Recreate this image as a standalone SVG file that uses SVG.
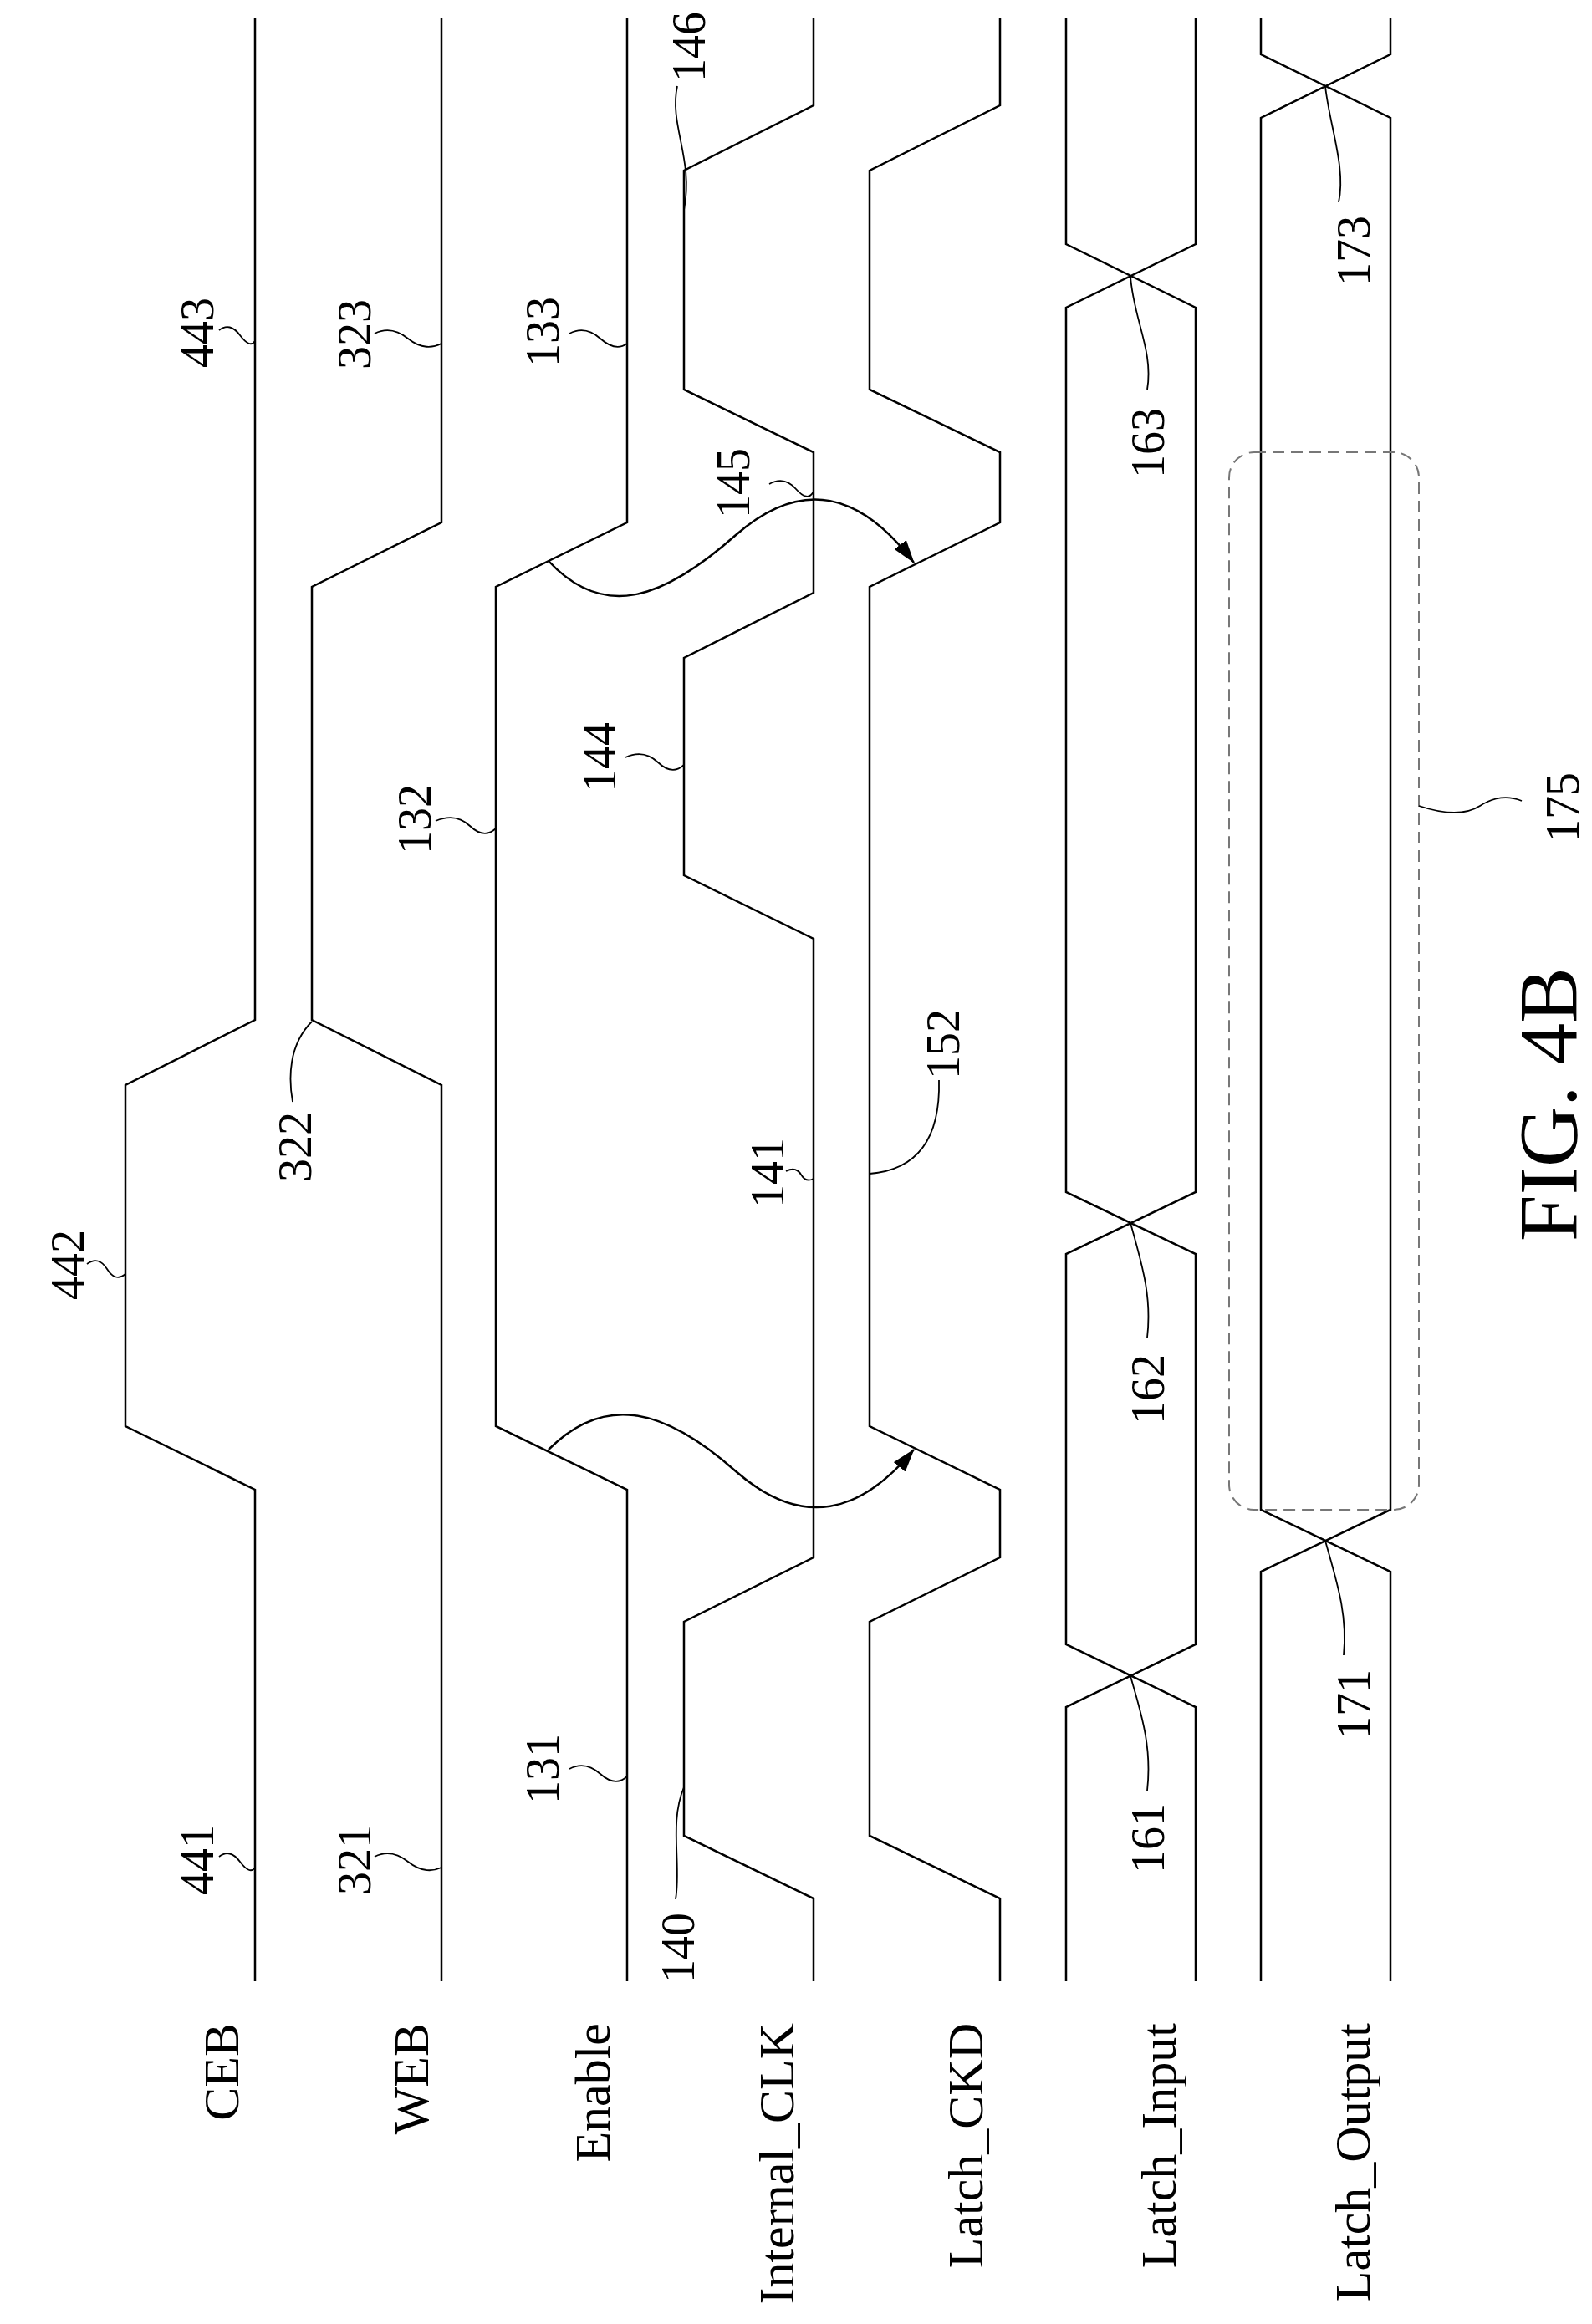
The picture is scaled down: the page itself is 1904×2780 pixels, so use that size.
<svg xmlns="http://www.w3.org/2000/svg" width="1904" height="2780" viewBox="0 0 1904 2780">
<defs>
<style>
.w{fill:none;stroke:#000;stroke-width:2.5}
.l{fill:none;stroke:#000;stroke-width:1.8}
.d{fill:none;stroke:#777;stroke-width:2;stroke-dasharray:14 8}
text{font-family:"Liberation Serif",serif;fill:#000}
.n{font-size:56px;text-anchor:middle}
.s{font-size:60px;text-anchor:end}
</style>
<marker id="ah" viewBox="0 0 28 18" refX="27" refY="9" markerWidth="28" markerHeight="18" markerUnits="userSpaceOnUse" orient="auto"><path d="M0,0 L28,9 L0,18 Z" fill="#000"/></marker>
</defs>
<rect width="1904" height="2780" fill="#fff"/>
<g id="CEB"><path class="w" d="M305,22 V1220 L150,1298 V1706 L305,1782 V2370"/><text class="s" transform="rotate(-90 285 2420)" x="285" y="2420">CEB</text></g>
<g id="WEB"><path class="w" d="M528,22 V625 L373,702 V1220 L528,1298 V2370"/><text class="s" transform="rotate(-90 512 2420)" x="512" y="2420">WEB</text></g>
<g id="Enable"><path class="w" d="M750,22 V625 L593,702 V1706 L750,1782 V2370"/><text class="s" transform="rotate(-90 729 2420)" x="729" y="2420">Enable</text></g>
<g id="Internal_CLK"><path class="w" d="M973,22 V126 L818,204 V466 L973,541 V709 L818,787 V1047 L973,1123 V1863 L818,1940 V2196 L973,2271 V2370"/><text class="s" transform="rotate(-90 949 2420)" x="949" y="2420">Internal_CLK</text></g>
<g id="Latch_CKD"><path class="w" d="M1196,22 V126 L1040,204 V466 L1196,541 V625 L1040,702 V1706 L1196,1782 V1863 L1040,1940 V2196 L1196,2271 V2370"/><text class="s" transform="rotate(-90 1175 2420)" x="1175" y="2420">Latch_CKD</text></g>
<g id="Latch_Input"><path class="w" d="M1275,22 V292 L1430,368 V1426 L1275,1500 V1967 L1430,2042 V2370 M1430,22 V292 L1275,368 V1426 L1430,1500 V1967 L1275,2042 V2370"/><text class="s" transform="rotate(-90 1406 2420)" x="1406" y="2420">Latch_Input</text></g>
<g id="Latch_Output"><path class="w" d="M1508,22 V65 L1663,141 V1806 L1508,1880 V2370 M1663,22 V65 L1508,141 V1806 L1663,1880 V2370"/><text class="s" transform="rotate(-90 1638 2420)" x="1638" y="2420">Latch_Output</text></g>
<g id="box175"><rect class="d" x="1470" y="541" width="227" height="1265" rx="30"/></g>
<g id="connectors">
<path class="w" d="M656,671 C720,740 790,720 880,640 C960,570 1030,590 1093,673" marker-end="url(#ah)"/>
<path class="w" d="M656,1734 C720,1670 790,1680 880,1760 C960,1830 1030,1810 1093,1734" marker-end="url(#ah)"/>
</g>
<g id="leaders">
<path class="l" d="M262,395 Q275,385 287,401 T305,408"/>
<path class="l" d="M448,399 Q468,389 488,405 T528,411"/>
<path class="l" d="M681,399 Q700,389 718,405 T750,411"/>
<path class="l" d="M810,103 C800,150 830,190 818,251"/>
<path class="l" d="M1601,242 C1610,200 1590,150 1585,103"/>
<path class="l" d="M1372,466 C1380,420 1355,380 1352,330"/>
<path class="l" d="M920,579 Q938,569 952,585 T973,588"/>
<path class="l" d="M521,982 Q545,972 562,988 T593,991"/>
<path class="l" d="M748,906 Q770,896 787,912 T818,915"/>
<path class="l" d="M1820,958 Q1795,948 1770,964 T1697,964"/>
<path class="l" d="M1123,1292 C1125,1370 1090,1400 1040,1404"/>
<path class="l" d="M104,1512 Q118,1502 128,1518 T150,1524"/>
<path class="l" d="M373,1222 C345,1250 345,1290 350,1318"/>
<path class="l" d="M940,1401 Q952,1395 958,1405 T973,1410"/>
<path class="l" d="M262,2221 Q275,2211 287,2227 T305,2234"/>
<path class="l" d="M448,2221 Q468,2211 488,2227 T528,2234"/>
<path class="l" d="M681,2116 Q700,2106 718,2122 T750,2125"/>
<path class="l" d="M818,2138 C800,2180 815,2230 808,2272"/>
<path class="l" d="M1352,1463 C1365,1510 1378,1550 1372,1600"/>
<path class="l" d="M1352,2005 C1365,2050 1378,2090 1372,2142"/>
<path class="l" d="M1585,1843 C1598,1890 1612,1930 1607,1980"/>
</g>
<g id="labels">
<text class="n" transform="rotate(-90 255 398)" x="255" y="398">443</text>
<text class="n" transform="rotate(-90 443 400)" x="443" y="400">323</text>
<text class="n" transform="rotate(-90 668 397)" x="668" y="397">133</text>
<text class="n" transform="rotate(-90 843 56)" x="843" y="56">146</text>
<text class="n" transform="rotate(-90 1638 300)" x="1638" y="300">173</text>
<text class="n" transform="rotate(-90 1392 530)" x="1392" y="530">163</text>
<text class="n" transform="rotate(-90 896 578)" x="896" y="578">145</text>
<text class="n" transform="rotate(-90 515 980)" x="515" y="980">132</text>
<text class="n" transform="rotate(-90 736 906)" x="736" y="906">144</text>
<text class="n" transform="rotate(-90 1888 966)" x="1888" y="966">175</text>
<text class="n" transform="rotate(-90 1147 1249)" x="1147" y="1249">152</text>
<text class="n" transform="rotate(-90 100 1513)" x="100" y="1513">442</text>
<text class="n" transform="rotate(-90 372 1372)" x="372" y="1372">322</text>
<text class="n" transform="rotate(-90 937 1403)" x="937" y="1403">141</text>
<text class="n" transform="rotate(-90 1392 1662)" x="1392" y="1662">162</text>
<text class="n" transform="rotate(-90 255 2225)" x="255" y="2225">441</text>
<text class="n" transform="rotate(-90 443 2225)" x="443" y="2225">321</text>
<text class="n" transform="rotate(-90 668 2116)" x="668" y="2116">131</text>
<text class="n" transform="rotate(-90 830 2330)" x="830" y="2330">140</text>
<text class="n" transform="rotate(-90 1392 2199)" x="1392" y="2199">161</text>
<text class="n" transform="rotate(-90 1638 2039)" x="1638" y="2039">171</text>
<text transform="rotate(-90 1885 1321)" x="1885" y="1321" style="font-size:100px;text-anchor:middle">FIG. 4B</text>
</g>
</svg>
